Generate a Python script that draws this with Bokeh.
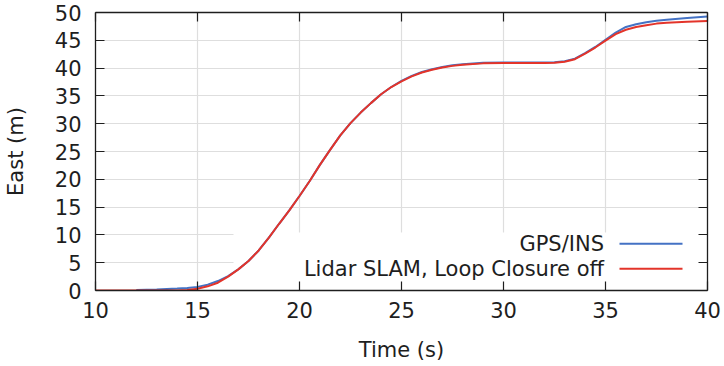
from bokeh.plotting import figure
from bokeh.models import LinearAxis, FixedTicker, Range1d, BoxAnnotation, Label, CustomLabelingPolicy
from bokeh.embed import file_html
from bokeh.resources import INLINE

# ---- data ----
t_gps = [12, 13, 14, 14.5, 15, 15.5, 16, 16.5, 17, 17.5, 18, 18.5, 19, 19.5, 20,
         20.5, 21, 21.5, 22, 22.5, 23, 23.5, 24, 24.5, 25, 25.5, 26, 26.5, 27, 27.5, 28, 29, 30, 31,
         32, 32.5, 33, 33.5, 34, 34.5, 35, 35.5, 36, 36.5, 37, 37.5, 38, 39, 40]
east_gps = [0.1, 0.2, 0.35, 0.45, 0.65, 1.05, 1.7, 2.6, 3.8, 5.3, 7.2, 9.5, 12.0, 14.4, 17.0,
            19.7, 22.6, 25.3, 27.9, 30.1, 32.0, 33.7, 35.3, 36.6, 37.7, 38.6, 39.3, 39.8, 40.2, 40.5, 40.7,
            40.95, 41.0, 41.0, 41.0, 41.05, 41.25, 41.7, 42.7, 43.8, 45.1, 46.4, 47.4, 47.9, 48.25, 48.5,
            48.7, 49.0, 49.3]

t_slam = [10, 11, 12, 13, 14, 14.5, 15, 15.5, 16, 16.5, 17, 17.5, 18, 18.5, 19, 19.5, 20,
          20.5, 21, 21.5, 22, 22.5, 23, 23.5, 24, 24.5, 25, 25.5, 26, 26.5, 27, 27.5, 28, 29, 30, 31,
          32, 32.5, 33, 33.5, 34, 34.5, 35, 35.5, 36, 36.5, 37, 37.5, 38, 39, 40]
east_slam = [0.0, 0.0, 0.0, 0.0, 0.0, 0.08, 0.3, 0.75, 1.4, 2.5, 3.8, 5.3, 7.2, 9.5, 12.0, 14.4, 17.0,
             19.7, 22.6, 25.3, 27.9, 30.1, 32.0, 33.7, 35.3, 36.6, 37.6, 38.5, 39.2, 39.7, 40.1, 40.4, 40.6,
             40.85, 40.9, 40.9, 40.9, 40.95, 41.15, 41.6, 42.6, 43.7, 44.95, 46.1, 46.9, 47.4, 47.7, 48.0,
             48.15, 48.35, 48.45]

x_ticks = [10, 15, 20, 25, 30, 35, 40]
y_ticks = [0, 5, 10, 15, 20, 25, 30, 35, 40, 45, 50]
series_names = ["GPS/INS", "Lidar SLAM, Loop Closure off"]
series_colors = ["#4472c4", "#e3342a"]

FONT = "DejaVu Sans"
FS = "21px"
INK = "#1e1e1e"

p = figure(width=724, height=366, output_backend="svg", toolbar_location=None,
           x_range=Range1d(10, 40), y_range=Range1d(0, 50),
           min_border_left=93, min_border_right=17, min_border_top=12, min_border_bottom=76,
           x_axis_label="Time (s)", y_axis_label="East (m)")
p.outline_line_color = None
p.background_fill_color = "white"
p.border_fill_color = "white"

no_labels = CustomLabelingPolicy(code="return new Set()")

def style_axis(ax, labels=True):
    ax.axis_line_color = INK
    ax.axis_line_width = 1.3
    ax.major_tick_line_color = INK
    ax.major_tick_line_width = 1.2
    ax.major_tick_in = 9
    ax.major_tick_out = 0
    ax.minor_tick_line_color = None
    ax.major_label_text_font = FONT
    ax.major_label_text_font_size = FS
    ax.major_label_text_color = INK
    ax.axis_label_text_font = FONT
    ax.axis_label_text_font_size = FS
    ax.axis_label_text_color = INK
    ax.axis_label_text_font_style = "normal"
    if not labels:
        ax.major_label_policy = no_labels
        ax.major_label_text_font_size = "1px"
        ax.major_label_standoff = 0

p.xaxis.ticker = FixedTicker(ticks=x_ticks)
p.yaxis.ticker = FixedTicker(ticks=y_ticks)
for ax in p.xaxis + p.yaxis:
    style_axis(ax)
p.xaxis.major_label_standoff = 11
p.xaxis.axis_label_standoff = 17
p.yaxis.major_label_standoff = 14
p.yaxis.axis_label_standoff = 24

top = LinearAxis(ticker=FixedTicker(ticks=x_ticks))
style_axis(top, labels=False)
p.add_layout(top, "above")
right = LinearAxis(ticker=FixedTicker(ticks=y_ticks))
style_axis(right, labels=False)
p.add_layout(right, "right")

p.xgrid.ticker = FixedTicker(ticks=x_ticks[1:-1])
p.ygrid.ticker = FixedTicker(ticks=y_ticks[1:-1])
p.grid.grid_line_color = "#dedede"
p.grid.grid_line_width = 1.2

# legend background (in screen units relative to the frame)
p.add_layout(BoxAnnotation(left=138, right=614, bottom=0, top=58,
                           left_units="screen", right_units="screen",
                           bottom_units="screen", top_units="screen",
                           fill_color="white", fill_alpha=1.0, line_color=None,
                           level="underlay"))

p.line(t_gps, east_gps, line_color=series_colors[0], line_width=2)
p.line(t_slam, east_slam, line_color=series_colors[1], line_width=2)

# legend entries: text to the left of a line sample (gnuplot style)
for i, (name, col) in enumerate(zip(series_names, series_colors)):
    yc = 46.7 - 25 * i
    p.add_layout(Label(x=508.5, y=yc, x_units="screen", y_units="screen", text=name,
                       text_align="right", text_baseline="middle",
                       text_font=FONT, text_font_size=FS, text_color=INK))
    p.add_layout(BoxAnnotation(left=524, right=587, bottom=yc - 1, top=yc + 1,
                               left_units="screen", right_units="screen",
                               bottom_units="screen", top_units="screen",
                               fill_color=col, fill_alpha=1.0, line_color=None))

open("out.html", "w").write(file_html(p, INLINE))
